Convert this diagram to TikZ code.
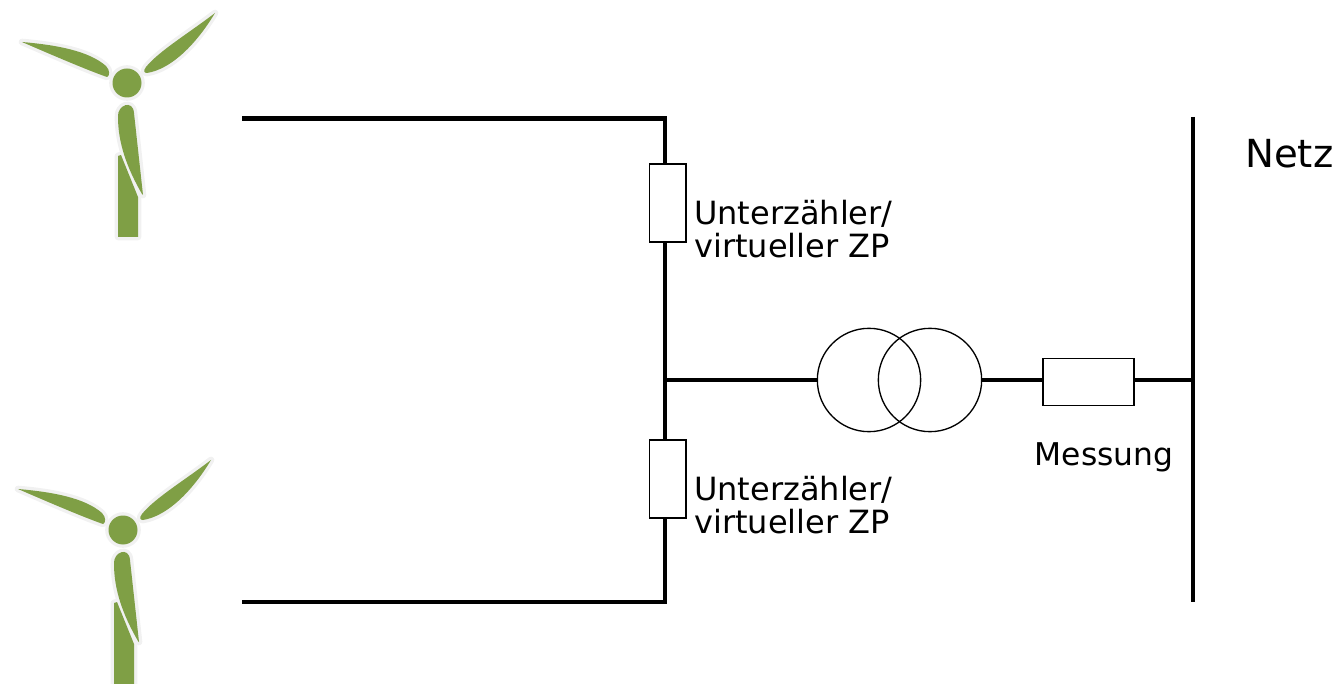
\documentclass[tikz,border=0pt]{standalone}
\usepackage{fontspec}
\setmainfont{DejaVu Sans}
\usepackage{tikz}
\usetikzlibrary{calc}
\usetikzlibrary{shapes}

\definecolor{windgreen}{HTML}{7F9F45}
\definecolor{halo}{HTML}{F1F1F1}

% outline of one turbine, coordinates relative to the hub
\newcommand{\turbinepath}[1]{
	\path[#1] (-105,-41) .. controls (-70,-38) and (-38,-32) .. (-21,-17)
	.. controls (-17,-13) and (-17,-7) .. (-20,-6) .. controls (-40,-13) and (-75,-28) .. cycle;
	\path[#1] (88,-70) .. controls (62,-50) and (32,-32) .. (19,-16)
	.. controls (16,-12) and (17,-10) .. (20,-10) .. controls (45,-14) and (70,-40) .. cycle;
	\path[#1] (-9,34) .. controls (-10,22) and (6,16) .. (7,30)
	-- (16,112) -- (15,111) .. controls (0,85) and (-9,60) .. cycle;
	\path[#1] (-9,73) -- (-6,72) -- (11,114) -- (11,154) -- (-9,154) -- cycle;
	\path[#1] (0,0) circle [radius=14.5];
}

\tikzset{
	bus/.style={line width=3.3pt},
	meter/.style={draw, line width=1pt, fill=white, rectangle, inner sep=0pt},
	coil/.style={draw, line width=1pt, circle, inner sep=0pt},
	lbl/.style={inner sep=0pt, align=left, font=\fontsize{24}{24.75}\selectfont},
	turbine/.pic={
		\turbinepath{draw=halo, line width=5pt, line join=round}
		\turbinepath{fill=windgreen}
	}
}

\begin{document}
\begin{tikzpicture}[x=0.75pt,y=-0.75pt]
	\useasboundingbox (0,0) rectangle (1340,684);
	% wind turbines
	\pic at (127,83) {turbine};
	\begin{scope}
		\clip (0,0) rectangle (1340,684);
		\pic at (123,530) {turbine};
	\end{scope}
	% park grid
	\coordinate (wt1) at (242,118.5);
	\coordinate (wt2) at (242,602);
	\coordinate (j1) at (665,118.5);
	\coordinate (j2) at (665,602);
	\coordinate (j0) at (665,380);
	\node[meter, minimum width=27.5pt, minimum height=58.5pt] (uz1) at (667.5,203) {};
	\node[meter, minimum width=27.5pt, minimum height=58.5pt] (uz2) at (667.5,479) {};
	\node[coil, minimum size=77.5pt] (tr1) at (869,380) {};
	\node[coil, minimum size=77.5pt] (tr2) at (930,380) {};
	\node[meter, minimum width=68.25pt, minimum height=35.25pt] (mess) at (1088.5,382) {};
	\coordinate (nt1) at (1193,117);
	\coordinate (nt2) at (1193,602);
	\coordinate (nt0) at (1193,380);
	\draw[bus] (wt1) -- (j1) -- (j1 |- uz1.north);
	\draw[bus] (j1 |- uz1.south) -- (j1 |- uz2.north);
	\draw[bus] (j1 |- uz2.south) -- (j2) -- (wt2);
	\draw[bus] (j0) -- (tr1.west);
	\draw[bus] (tr2.east) -- (mess.west |- tr2.east);
	\draw[bus] (mess.east |- nt0) -- (nt0);
	\draw[bus] (nt1) -- (nt2);
	% labels
	\node[lbl, anchor=north west] (l1) at (694,200) {Unterzähler/\\virtueller ZP};
	\node[lbl, anchor=north west] (l2) at (694,476) {Unterzähler/\\virtueller ZP};
	\node[lbl, anchor=base, font=\fontsize{23.5}{24.75}\selectfont] (l3) at (1104,465) {Messung};
	\node[lbl, anchor=base west, font=\fontsize{29}{34}\selectfont] (l4) at (1245,168) {Netz};
\end{tikzpicture}
\end{document}
